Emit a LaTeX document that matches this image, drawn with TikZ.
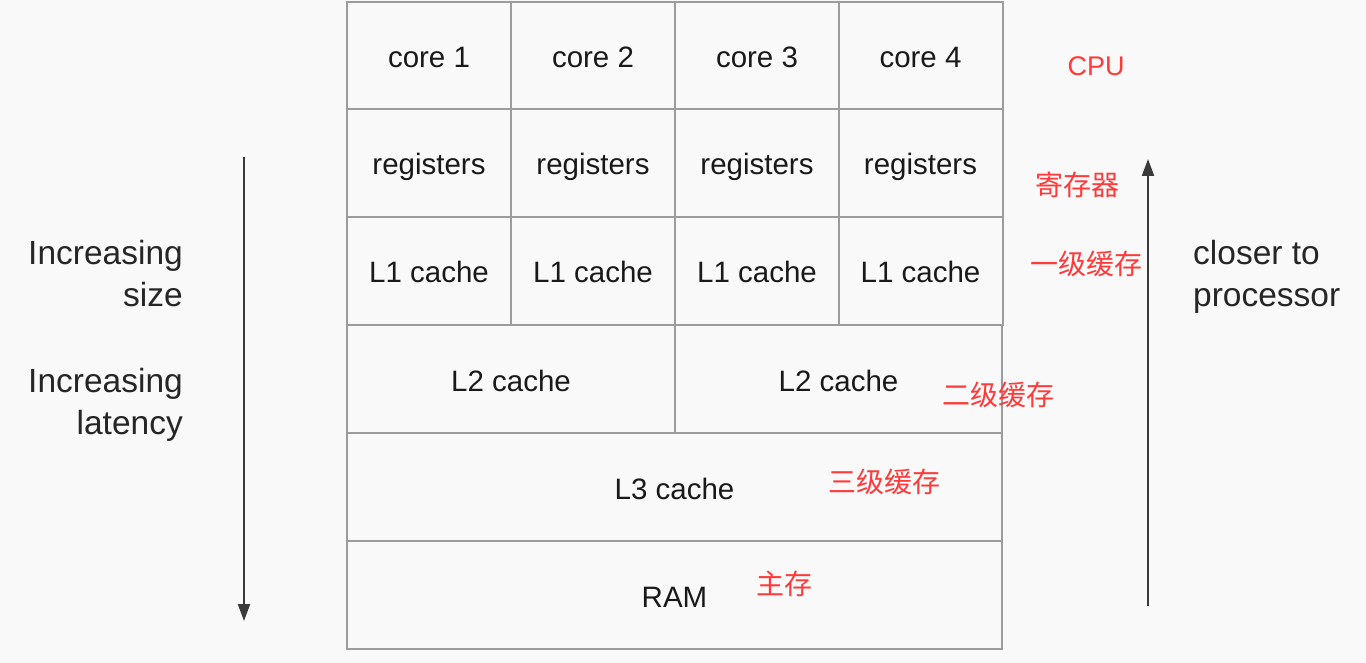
\documentclass[tikz,border=0pt]{standalone}
\usepackage{fontspec}
\setmainfont{Liberation Sans}
\newfontfamily\cjk{Noto Sans CJK SC}
\usetikzlibrary{arrows.meta}
\definecolor{bg}{HTML}{F9F9F9}
\definecolor{gridc}{HTML}{9C9C9C}
\definecolor{arr}{HTML}{3A3A3A}
\definecolor{redt}{RGB}{255,58,58}
\tikzset{
  cell/.style={draw=gridc, line width=2pt, inner sep=0pt, text height=24pt, text depth=0pt, font=\fontsize{29.5}{34}\selectfont, text=black!90},
  side/.style={font=\fontsize{33.5}{42}\selectfont, text=black!85, inner sep=0pt},
  cn/.style={font=\cjk\fontsize{28}{30}\selectfont, text=redt, inner sep=0pt},
  bigarrow/.style={draw=arr, line width=2pt, -{Triangle[length=17pt,width=12pt]}}
}
\begin{document}
\begin{tikzpicture}[x=1pt,y=-1pt]
\fill[bg] (0,0) rectangle (1366,663);
\useasboundingbox (0,0) rectangle (1366,663);
\foreach \i/\x in {1/429,2/593,3/757,4/920.5}{
  \node[cell, minimum width=164, minimum height=107.5] (core\i) at (\x,55.5) {core \i};
  \node[cell, minimum width=164, minimum height=108] (reg\i) at (\x,163) {registers};
  \node[cell, minimum width=164, minimum height=108] (lone\i) at (\x,271) {L1 cache};
}
\node[cell, minimum width=328, minimum height=108] (ltwoa) at (511,379) {L2 cache};
\node[cell, minimum width=327, minimum height=108] (ltwob) at (838.5,379) {L2 cache};
\node[cell, minimum width=655, minimum height=108] (lthree) at (674.5,487) {L3 cache};
\node[cell, minimum width=655, minimum height=108] (ram) at (674.5,595) {RAM};

% red labels
\node[cn, font=\fontsize{27}{30}\selectfont] (cpu) at (1096,66) {CPU};
\node[cn] (jcq) at (1077,185) {寄存器};
\node[cn] (l1c) at (1086,264) {一级缓存};
\node[cn] (l2c) at (998,395) {二级缓存};
\node[cn] (l3c) at (884,482) {三级缓存};
\node[cn] (zc) at (784,584) {主存};

% side texts
\node[side, align=right, anchor=north east] (size) at (183,240) {Increasing\\size};
\node[side, align=right, anchor=north east] (lat) at (183,368) {Increasing\\latency};
\node[side, align=left, anchor=north west] (closer) at (1193,240) {closer to\\processor};

% arrows
\coordinate (la) at (244,157);
\coordinate (lb) at (244,621);
\coordinate (ra) at (1148,606);
\coordinate (rb) at (1148,159);
\draw[bigarrow] (la) -- (lb);
\draw[bigarrow] (ra) -- (rb);
\end{tikzpicture}
\end{document}
